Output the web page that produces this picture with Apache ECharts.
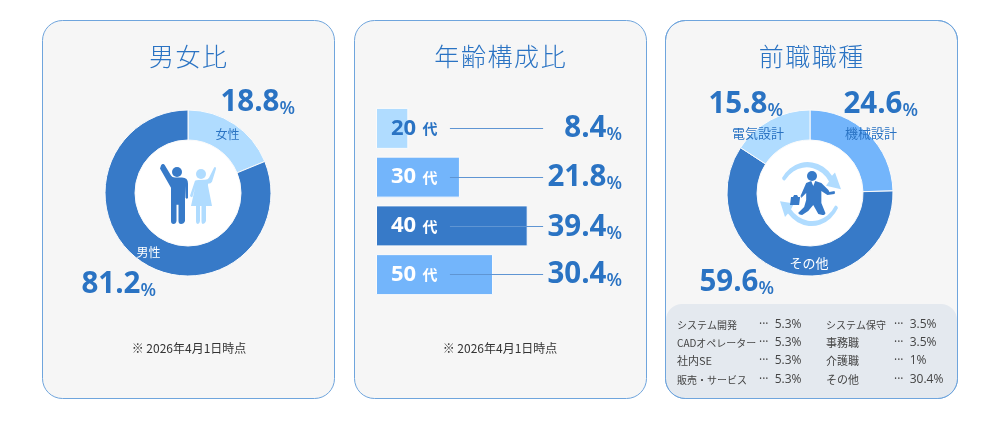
<!DOCTYPE html>
<html><head><meta charset="utf-8">
<style>html,body{margin:0;padding:0;background:#fff}#c{width:1000px;height:422px}</style>
<script src="https://cdn.jsdelivr.net/npm/echarts@6/dist/echarts.min.js"></script>
</head><body><div id="c"></div>
<script>
const titles = ['男女比','年齢構成比','前職職種'];
const genderNames = ['女性','男性'];
const genderValues = [18.8,81.2];
const ageCategories = ['20','30','40','50'];
const ageValues = [8.4,21.8,39.4,30.4];
const jobNames = ['機械設計','その他','電気設計'];
const jobValues = [24.6,59.6,15.8];
const otherJobsLeft = [['システム開発','5.3%'],['CADオペレーター','5.3%'],['社内SE','5.3%'],['販売・サービス','5.3%']];
const otherJobsRight = [['システム保守','3.5%'],['事務職','3.5%'],['介護職','1%'],['その他','30.4%']];
const note = '※ 2026年4月1日時点';

const BLUE='#2a73c3', DARK='#377ac8', MID='#73b5fb', LIGHT='#b0dcff', CARD='#f6f6f6', EDGE='#6fa5dd';
const NUM='"Open Sans","Noto Sans CJK JP",sans-serif';
const CJK='"Noto Sans CJK JP","Open Sans",sans-serif';
const g=[];
function card(x){g.push({type:'rect',shape:{x:x+.5,y:20.5,width:292,height:378,r:20},style:{fill:CARD,stroke:EDGE,lineWidth:1},z:0});}
[42,354,665].forEach(card);
g.push({type:'rect',shape:{x:666,y:304,width:291,height:94,r:[16,16,20,20]},style:{fill:'#e4e9ef'},z:1});
g.push({type:'rect',shape:{x:665.5,y:20.5,width:292,height:378,r:20},style:{fill:'none',stroke:EDGE,lineWidth:1},z:1});
[188,810].forEach(cx=>g.push({type:'circle',shape:{cx,cy:193,r:54},style:{fill:'#fff'},z:1}));
[[188,titles[0]],[500,titles[1]],[811,titles[2]]].forEach(([x,t])=>g.push({type:'text',x,y:56,z:3,style:{
  text:t.split('').join('\u200a'),fill:BLUE,font:'300 25px "Noto Sans CJK JP"',align:'center',verticalAlign:'middle'}}));
function big(v,x,y,align){g.push({type:'text',x,y,z:5,style:{text:`{a|${v}}{b|%}`,align,verticalAlign:'middle',
  rich:{a:{font:`700 29.5px ${NUM}`,fill:BLUE,verticalAlign:'bottom'},b:{font:`600 18px ${NUM}`,fill:BLUE,verticalAlign:'bottom'}}}});}
big(genderValues[0],295,103,'right');
big(genderValues[1],156,285,'right');
big(jobValues[0],918,105,'right');
big(jobValues[1],774,283,'right');
big(jobValues[2],783,105,'right');
[129,178,228,275].forEach((y,i)=>big(ageValues[i],622,y,'right'));
[189,500].forEach(x=>g.push({type:'text',x,y:348,z:3,style:{text:note,font:`12px ${CJK}`,fill:'#333',align:'center',verticalAlign:'middle'}}));
const rows=[325,343,361,380];
function tbl(list,x0,x1){list.forEach(([n,v],i)=>{
  const size=/[\u30a0-\u30ff]/.test(n)?10:11;
  g.push({type:'text',x:x0,y:rows[i],z:3,style:{text:n,font:`${size}px ${CJK}`,fill:'#444',verticalAlign:'middle'}});
  g.push({type:'text',x:x1,y:rows[i],z:3,style:{text:'···  '+v,font:`12px ${NUM}`,fill:'#444',verticalAlign:'middle'}});
});}
tbl(otherJobsLeft,677,759); tbl(otherJobsRight,826,894);

const man='M161 166 C162 164 164 164 165 166 L171 176 Q172 178 175 178 L182 178 Q188 178 188 184 L188 198 Q187 200 185.500 198 L185 186 L185 221 Q184 224 181 224 Q178.500 224 178.500 221 L178.500 205 L176.500 205 L176.500 221 Q176 224 173.500 224 Q171 224 171 221 L171 188 L160 169 Z';
const woman='M214 168 C214.500 167 216 167 216 169 L212 182 Q211 184 208 184 L208 186 L212 206 L206 206 L206 221 Q205 224 203 224 Q201.500 224 201.500 221 L201.500 206 L200 206 L200 221 Q199.500 224 198 224 Q196 224 196 221 L196 206 L191 206 L195 188 L192.500 197 Q191 198 190 196 L195 181 Q197 180 205 180 Q208 180 209 178 Z';
const arrows='M782 178 A30 30 0 0 1 832 176 L835 173 L841 188 L826 185 L829 181 A26 26 0 0 0 785 180 Q783 181 782 178 Z M838 205 A30 30 0 0 1 788 210 L785 213 L780 199 L794 201 L791 206 A26 26 0 0 0 835 203 Q837 202 838 205 Z';
const worker='M806 183 L811 181 L813 186 L815 181 L821 183 L828 190 L829 192 L834 191 Q835 193 834 194 L827 195 L821 191 L821 203 L825 213 Q825 215 822 215 L818 214 L813 205 L808 211 L802 215 Q799 215 798 213 L804 207 L806 200 L806 193 L801 198 L801 196 L800 197 L803 190 Z M791 197 L793 197 L794 195 L797 195 L798 197 L800 197 L799 205 L790 205 Z';
const iconPaths=[
 [man,160,164,28,60,DARK],[woman,190,167,26,57,LIGHT],
 [arrows,780,162,61,64,LIGHT],[worker,790,181,45,34,DARK]];
g.push({type:'circle',shape:{cx:177,cy:172,r:5},style:{fill:DARK},z:3});
g.push({type:'circle',shape:{cx:201,cy:174,r:5},style:{fill:LIGHT},z:3});
g.push({type:'circle',shape:{cx:812,cy:176,r:5},style:{fill:DARK},z:3});

const ring={type:'pie',radius:[53,83],startAngle:90,clockwise:true,z:4,silent:true,
  itemStyle:{borderColor:'#fbfbfb',borderWidth:1},labelLine:{show:false},emphasis:{disabled:true}};
const jobLabelPos=[[871,133],[809,263],[758,133]];
const option={animation:false,backgroundColor:'#fff',
 graphic:{elements:g},
 grid:{left:376,top:104,width:250,height:195},
 xAxis:{type:'value',min:0,max:250/3.85,show:false},
 yAxis:{type:'category',inverse:true,data:ageCategories,show:false},
 series:[
  Object.assign({},ring,{center:[188,193],
    data:genderNames.map((name,i)=>({name,value:genderValues[i],
      itemStyle:{color:[LIGHT,DARK][i]},
      label:{color:[BLUE,'#fff'][i]}})),
    label:{position:'inside',formatter:'{b}',fontFamily:CJK,fontSize:12}}),
  Object.assign({},ring,{center:[810,193],
    data:jobNames.map((name,i)=>({name,value:jobValues[i],
      itemStyle:{color:[MID,DARK,LIGHT][i]},
      label:{color:[BLUE,'#fff',BLUE][i]}})),
    label:{position:'inside',formatter:'{b}',fontFamily:CJK,fontSize:13},
    labelLayout:p=>({x:jobLabelPos[p.dataIndex][0],y:jobLabelPos[p.dataIndex][1],align:'center',verticalAlign:'middle'})}),
  {type:'bar',z:4,silent:true,barWidth:41,
    data:ageValues.map((value,i)=>({value,itemStyle:{color:[LIGHT,MID,DARK,MID][i]},
      label:{rich:{n:{fontFamily:NUM,fontWeight:700,fontSize:22,color:i?'#fff':BLUE},d:{fontFamily:CJK,fontWeight:700,fontSize:15,color:i?'#fff':BLUE,padding:[0,0,0,3]}}}})),
    itemStyle:{borderColor:'#fbfbfb',borderWidth:1},
    label:{show:true,position:[15,'50%'],verticalAlign:'middle',formatter:p=>`{n|${ageCategories[p.dataIndex]}} {d|代}`},
    markLine:{silent:true,symbol:'none',label:{show:false},
      lineStyle:{color:'#5f95d3',type:'solid',width:1.2},
      data:ageCategories.map(c=>[{coord:[19.2,c]},{coord:[43.4,c]}])}},
  {type:'custom',coordinateSystem:'none',silent:true,z:3,data:[0],
    renderItem:()=>({type:'group',children:iconPaths.map(([d,x,y,width,height,fill])=>({
      type:'path',shape:{pathData:d,layout:'cover',x,y,width,height},style:{fill}}))})}
 ]};
echarts.init(document.getElementById('c'),null,{renderer:'canvas'}).setOption(option);
</script></body></html>
